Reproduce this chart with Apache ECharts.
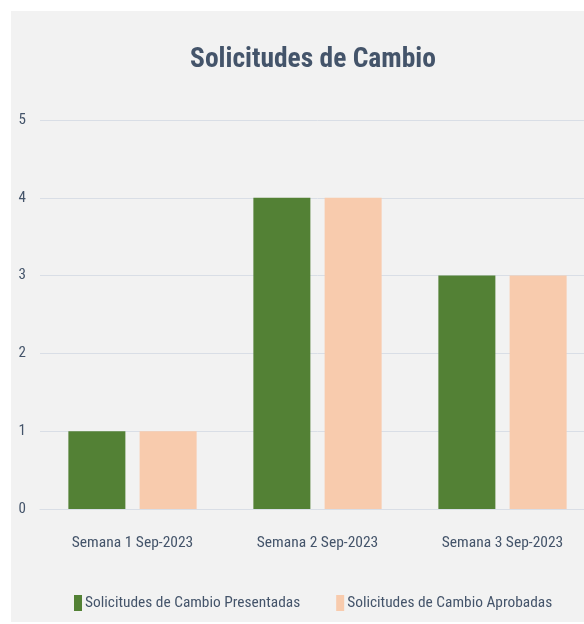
<!DOCTYPE html>
<html>
<head>
<meta charset="utf-8">
<script src="https://cdn.jsdelivr.net/npm/echarts@6/dist/echarts.min.js"></script>
<style>
  html, body { margin: 0; padding: 0; background: #ffffff; overflow: hidden; }
  #chart { position: absolute; left: 11px; top: 11px; width: 600px; height: 611px; background: #f2f2f2; }
</style>
</head>
<body>
<div id="chart"></div>
<script>
const categories = ['Semana 1 Sep-2023', 'Semana 2 Sep-2023', 'Semana 3 Sep-2023']
const presentadas = [1, 4, 3]
const aprobadas = [1, 4, 3]
const seriesNames = ['Solicitudes de Cambio Presentadas', 'Solicitudes de Cambio Aprobadas']

const FONT = '"Roboto Condensed", "DejaVu Sans Condensed", sans-serif'
const TEXT = '#44546a'

const chart = echarts.init(document.getElementById('chart'))
chart.setOption({
  backgroundColor: '#f2f2f2',
  animation: false,
  title: {
    text: 'Solicitudes de Cambio',
    left: 308 - 11,
    textAlign: 'center',
    top: 30,
    textStyle: { color: TEXT, fontFamily: FONT, fontWeight: 'bold', fontSize: 27.5 }
  },
  legend: {
    bottom: 11,
    left: 63,
    padding: 0,
    itemWidth: 8,
    itemHeight: 16,
    itemGap: 36,
    icon: 'rect',
    textStyle: { color: TEXT, fontFamily: FONT, fontSize: 15.4, padding: [0, 0, 0, -2] },
    data: seriesNames
  },
  grid: { left: 29, top: 109, width: 555, height: 389 },
  xAxis: {
    type: 'category',
    data: categories,
    axisLine: { lineStyle: { color: '#d9dee6', width: 1 } },
    axisTick: { show: false },
    axisLabel: { color: TEXT, fontFamily: FONT, fontSize: 15.5, margin: 26 }
  },
  yAxis: {
    type: 'value',
    min: 0,
    max: 5,
    interval: 1,
    axisLine: { show: false },
    axisTick: { show: false },
    axisLabel: { color: TEXT, fontFamily: FONT, fontSize: 15, margin: 14 },
    splitLine: { lineStyle: { color: '#d9dee6', width: 1 } }
  },
  series: [
    {
      name: seriesNames[0],
      type: 'bar',
      data: presentadas,
      barWidth: 57,
      barGap: '25%',
      itemStyle: { color: '#538135' }
    },
    {
      name: seriesNames[1],
      type: 'bar',
      data: aprobadas,
      barWidth: 57,
      itemStyle: { color: '#f8cbad' }
    }
  ]
})
</script>
</body>
</html>
